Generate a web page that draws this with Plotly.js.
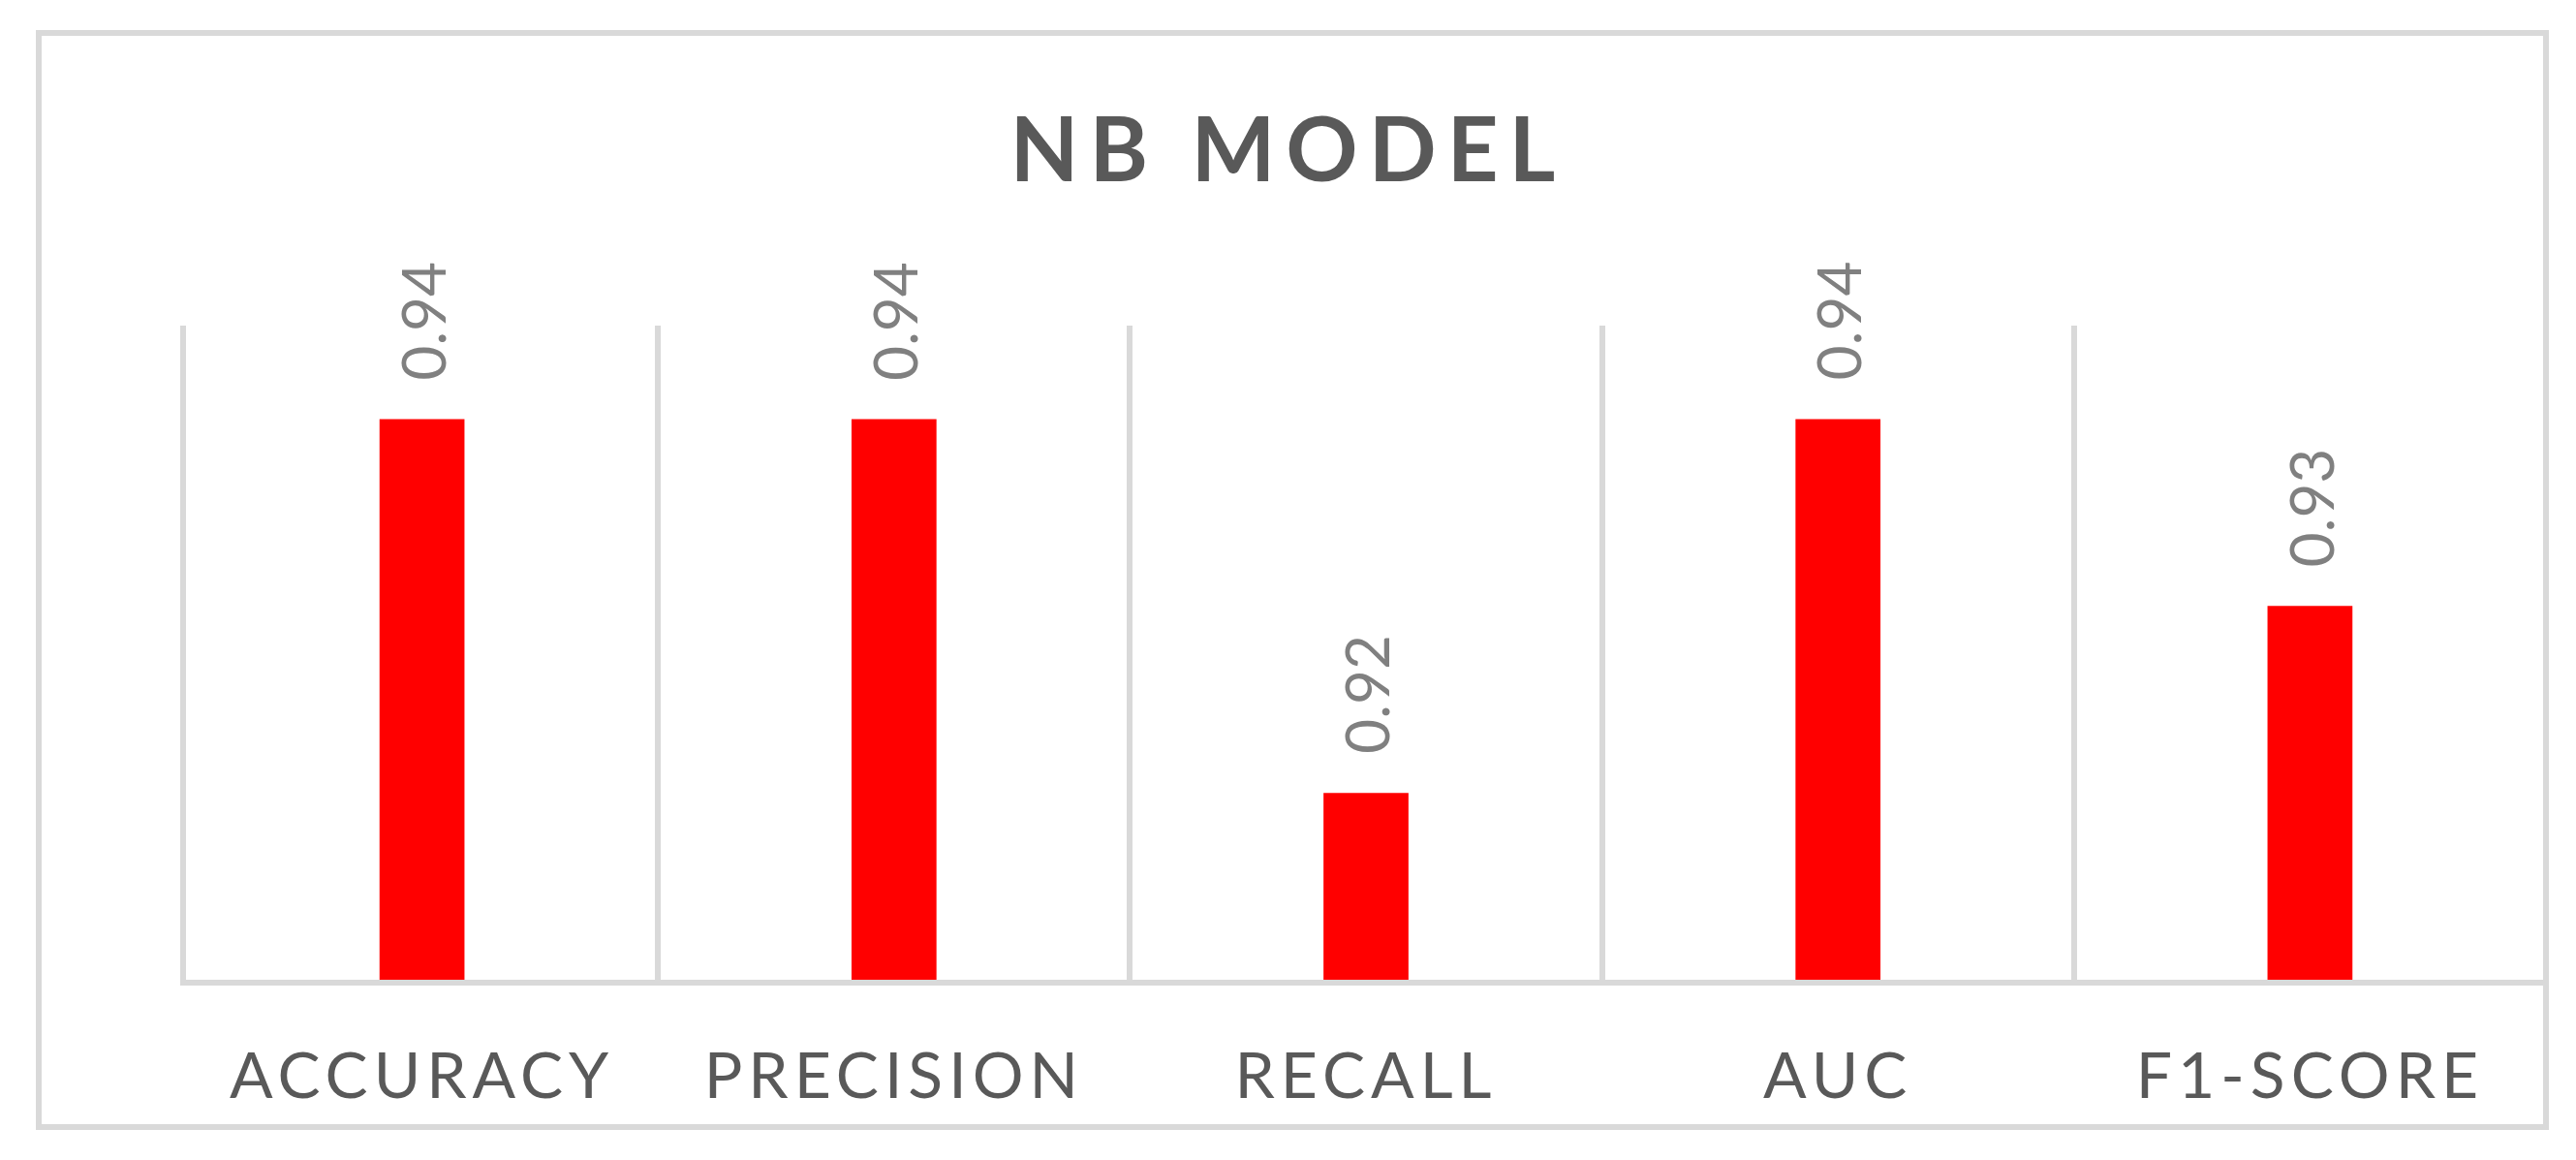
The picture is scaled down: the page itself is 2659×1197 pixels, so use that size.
<!DOCTYPE html>
<html>
<head>
<meta charset="utf-8">
<script src="https://cdn.plot.ly/plotly-3.0.1.min.js"></script>
<style>
  html, body { margin: 0; padding: 0; background: #fff; }
  #chart { width: 2659px; height: 1197px; }
  /* Excel-style spaced caps */
  #chart .xtick text { letter-spacing: 6px; }
  #chart .gtitle { letter-spacing: 11px; }
</style>
</head>
<body>
<div id="chart"></div>
<script>
const metrics = ['ACCURACY', 'PRECISION', 'RECALL', 'AUC', 'F1-SCORE'];
const scores = [0.94, 0.94, 0.92, 0.94, 0.93];
const scoreLabels = ['0.94', '0.94', '0.92', '0.94', '0.93'];

const lineGrey = '#d9d9d9';

const trace = {
    x: metrics,
    y: scores,
    type: 'bar',
    marker: { color: '#ff0000' },
    hoverinfo: 'skip'
};

const labels = metrics.map((m, i) => ({
    x: m,
    y: scores[i],
    xref: 'x',
    yref: 'y',
    text: scoreLabels[i],
    showarrow: false,
    textangle: -90,
    xanchor: 'center',
    yanchor: 'bottom',
    yshift: 38,
    font: { family: 'Lato, sans-serif', size: 62, color: '#808080' }
}));

const layout = {
    width: 2659,
    height: 1197,
    margin: { l: 192, r: 31, t: 336, b: 186 },
    paper_bgcolor: '#ffffff',
    plot_bgcolor: '#ffffff',
    showlegend: false,
    bargap: 0.82,
    title: {
        text: '<b>NB MODEL</b>',
        font: { family: 'Lato, sans-serif', size: 92, color: '#595959' },
        x: 0.5,
        xref: 'container',
        y: 1 - 155 / 1197,
        yref: 'container',
        yanchor: 'middle'
    },
    xaxis: {
        type: 'category',
        tickson: 'boundaries',
        showgrid: true,
        gridcolor: lineGrey,
        gridwidth: 6,
        showline: true,
        linecolor: lineGrey,
        linewidth: 6,
        ticks: '',
        ticklabelstandoff: 37,
        tickfont: { family: 'Lato, sans-serif', size: 66, color: '#595959' },
        fixedrange: true
    },
    yaxis: {
        range: [0.91, 0.945],
        showgrid: false,
        zeroline: false,
        showticklabels: false,
        showline: true,
        linecolor: lineGrey,
        linewidth: 6,
        ticks: '',
        fixedrange: true
    },
    shapes: [{
        // outer chart border
        type: 'rect',
        xref: 'paper',
        yref: 'paper',
        x0: (40 - 192) / 2436,
        x1: 1,
        y0: (1011 - 1163) / 675,
        y1: (1011 - 34) / 675,
        line: { color: lineGrey, width: 6 },
        fillcolor: 'rgba(0,0,0,0)',
        layer: 'below'
    }],
    annotations: labels
};

Plotly.newPlot('chart', [trace], layout, { displayModeBar: false, staticPlot: true });
</script>
</body>
</html>
